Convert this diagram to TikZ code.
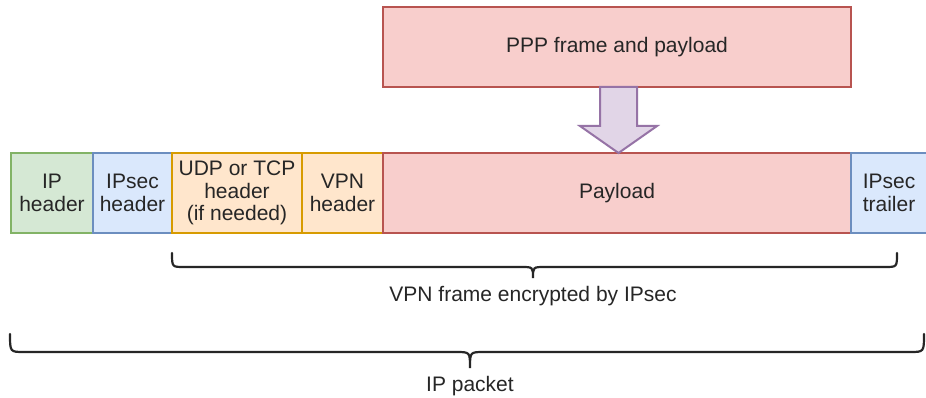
\documentclass[tikz,border=0pt]{standalone}
\usepackage{fontspec}
\setmainfont{Liberation Sans}
\definecolor{gfill}{HTML}{D5E8D4}\definecolor{gline}{HTML}{82B366}
\definecolor{bfill}{HTML}{DAE8FC}\definecolor{bline}{HTML}{6C8EBF}
\definecolor{ofill}{HTML}{FFE6CC}\definecolor{oline}{HTML}{D79B00}
\definecolor{rfill}{HTML}{F8CECC}\definecolor{rline}{HTML}{B85450}
\definecolor{pfill}{HTML}{E1D5E7}\definecolor{pline}{HTML}{9673A6}
\definecolor{txt}{HTML}{262626}
\begin{document}
\begin{tikzpicture}[x=1pt,y=-1pt,
  seg/.style={draw, line width=2pt, inner sep=0pt, align=center, text=txt,
    font=\fontsize{21}{22.5}\selectfont, minimum height=80pt},
  green/.style={fill=gfill, draw=gline},
  blue/.style={fill=bfill, draw=bline},
  orange/.style={fill=ofill, draw=oline},
  red/.style={fill=rfill, draw=rline},
  brace/.style={line width=2.2pt, draw=txt, line cap=round},
  lbl/.style={text=txt, font=\fontsize{21}{22.5}\selectfont, inner sep=0pt}]
\clip (0,0) rectangle (926,398);
\fill[white] (0,0) rectangle (926,398);
% top box
\node[seg, red, minimum width=468pt] (ppp) at (617,47) {PPP frame and payload};
% row
\node[seg, green, minimum width=82pt] (iph) at (52,193) {IP\\header};
\node[seg, blue, minimum width=79pt] (ipsech) at (132.5,193) {IPsec\\header};
\node[seg, orange, minimum width=130pt] (udp) at (237,193) {UDP or TCP\\header\\(if needed)};
\node[seg, orange, minimum width=81pt] (vpnh) at (342.5,193) {VPN\\header};
\node[seg, red, minimum width=468pt] (pay) at (617,193) {Payload};
\node[seg, blue, minimum width=76pt] (trail) at (889,193) {IPsec\\trailer};
% block arrow
\draw[line width=2pt, draw=pline, fill=pfill, line join=miter]
  (600,87) -- (637,87) -- (637,126) -- (657,126) -- (618.5,153) -- (580,126) -- (600,126) -- cycle;
% VPN brace
\coordinate (v0) at (172,253);
\coordinate (v1) at (897,253);
\coordinate (vt) at (533,278);
\draw[brace] (v0) .. controls (172,267) and (172,267) .. (184,267) -- (521,267)
  .. controls (533,267) and (533,267) .. (vt) .. controls (533,267) and (533,267) .. (545,267)
  -- (885,267) .. controls (897,267) and (897,267) .. (v1);
\node[lbl] (vpnlbl) at (533,296) {VPN frame encrypted by IPsec};
% IP brace
\coordinate (i0) at (10,334);
\coordinate (i1) at (924,334);
\coordinate (it) at (470,368);
\draw[brace] (i0) .. controls (10,352) and (10,352) .. (24,352) -- (456,352)
  .. controls (470,352) and (470,352) .. (it) .. controls (470,352) and (470,352) .. (484,352)
  -- (910,352) .. controls (924,352) and (924,352) .. (i1);
\node[lbl] (iplbl) at (470,386) {IP packet};
\end{tikzpicture}
\end{document}
